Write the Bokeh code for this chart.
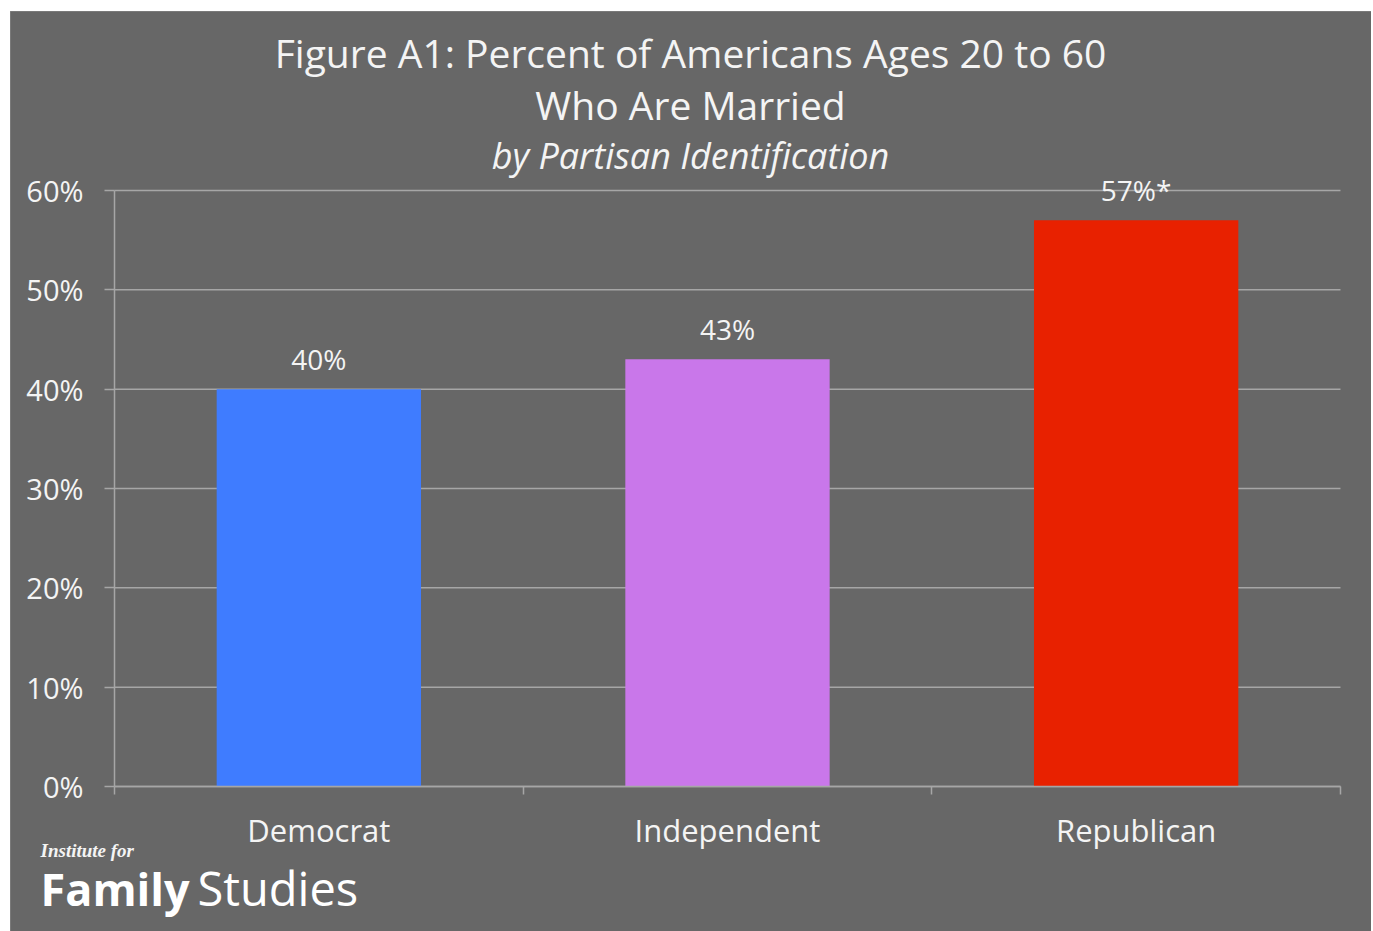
from bokeh.plotting import figure
from bokeh.models import (Range1d, LinearAxis, FixedTicker,
                          CustomJSTickFormatter, PrintfTickFormatter, Label, LabelSet, ColumnDataSource)
from bokeh.core.properties import value
from bokeh.embed import file_html
from bokeh.resources import INLINE

categories = ["Democrat", "Independent", "Republican"]
married_pct = [40, 43, 57]
value_labels = ["40%", "43%", "57%*"]
bar_colors = ["#3f7cff", "#c977ea", "#e82100"]
y_ticks = [0, 10, 20, 30, 40, 50, 60]
title_lines = ["Figure A1: Percent of Americans Ages 20 to 60", "Who Are Married", "by Partisan Identification"]

BG = "#676767"
LINE = "#a6a6a6"
TXT = "#f4f4f4"
FONT = "Open Sans"

n = len(categories)
centers = [i + 0.5 for i in range(n)]
edges = list(range(n + 1))
y_max = y_ticks[-1]

# frame covers the whole canvas; the plot area (0..n, 0..60) sits inside it
p = figure(x_range=Range1d(-0.2545, 3.0759), y_range=Range1d(-14.60, 78.02),
           width=1361, height=920, output_backend="svg", toolbar_location=None,
           x_axis_location=None, y_axis_location=None, min_border=0,
           background_fill_color=BG, border_fill_color=BG, outline_line_color=None,
           margin=(11, 0, 0, 10))
p.center = []
p.styles = {"outline": "2px solid #8e8e8e", "outline-offset": "-2px"}

# horizontal gridlines across the plot area
p.segment(x0=[0] * len(y_ticks), x1=[n] * len(y_ticks), y0=y_ticks, y1=y_ticks,
          line_color=LINE, line_width=1.5)

yaxis = LinearAxis(fixed_location=0, bounds=(0, y_max), ticker=FixedTicker(ticks=y_ticks),
                   formatter=PrintfTickFormatter(format="%d%%"),
                   major_tick_out=10, major_tick_in=0, minor_tick_line_color=None,
                   axis_line_color=LINE, axis_line_width=1.5, major_tick_line_color=LINE, major_tick_line_width=1.5,
                   major_label_standoff=21, major_label_text_font=FONT, major_label_text_font_size="29px",
                   major_label_text_color=TXT)
p.add_layout(yaxis, "left")

edge_axis = LinearAxis(fixed_location=0, bounds=(0, n), ticker=FixedTicker(ticks=edges),
                       formatter=CustomJSTickFormatter(code="return ''"),
                       major_tick_out=8, major_tick_in=0, minor_tick_line_color=None,
                       axis_line_color=LINE, axis_line_width=1.5, major_tick_line_color=LINE, major_tick_line_width=1.5,
                       major_label_standoff=0, major_label_text_font_size="1px")
p.add_layout(edge_axis, "below")

cat_axis = LinearAxis(fixed_location=0, ticker=FixedTicker(ticks=centers),
                      formatter=CustomJSTickFormatter(args=dict(cats=categories),
                                                      code="return cats[Math.floor(tick)]"),
                      axis_line_color=None, major_tick_line_color=None, minor_tick_line_color=None,
                      major_tick_out=0, major_tick_in=0,
                      major_label_standoff=23, major_label_text_font=FONT, major_label_text_font_size="31px",
                      major_label_text_color=TXT)
p.add_layout(cat_axis, "below")

src = ColumnDataSource(dict(x=centers, top=married_pct, color=bar_colors, label=value_labels))
p.vbar(x="x", top="top", width=0.5, source=src, fill_color="color", line_color=None)

labels = LabelSet(x="x", y="top", text="label", source=src, text_align="center", text_baseline="middle",
                  y_offset=30, text_font=value(FONT), text_font_size="28px", text_color=TXT)
p.add_layout(labels)

title_y = [73.9, 68.66, 63.52]
title_sizes = ["39px", "39px", "36px"]
title_styles = ["normal", "normal", "italic"]
for t, yy, fs, st in zip(title_lines, title_y, title_sizes, title_styles):
    p.add_layout(Label(x=1.4095, y=yy, text=t, text_align="center", text_baseline="middle",
                       text_font=FONT, text_font_size=fs, text_font_style=st, text_color=TXT))

p.add_layout(Label(x=-0.181, y=-6.44, text="Institute for", text_align="left", text_baseline="middle",
                   text_font="Liberation Serif", text_font_size="19px", text_font_style="bold italic",
                   text_color=TXT))
p.add_layout(Label(x=-0.181, y=-10.27, text="Family", text_align="left", text_baseline="middle",
                   text_font=FONT, text_font_size="45px", text_font_style="bold", text_color="#ffffff"))
p.add_layout(Label(x=0.2031, y=-10.27, text="Studies", text_align="left", text_baseline="middle",
                   text_font=FONT, text_font_size="47px", text_color="#ffffff"))

open("out.html", "w").write(file_html(p, INLINE))
